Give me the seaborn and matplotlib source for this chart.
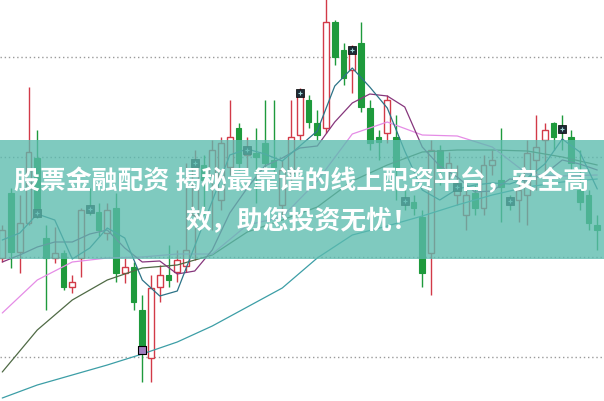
import numpy as np
import pandas as pd
import seaborn as sns
import matplotlib.pyplot as plt
from matplotlib.patches import Rectangle

# Datos de velas (precio)
open_ = [12.99, 13.64, 13.05, 13.34, 13.99, 13.19, 12.99, 13.04, 12.70, 12.99,
         13.50, 13.45, 13.24, 13.49, 12.84, 12.90, 12.47, 11.99, 12.70, 12.82,
         12.85, 12.91, 13.42, 13.92, 13.82, 13.57, 13.90, 14.29, 14.02, 14.04,
         14.14, 13.97, 13.52, 13.84, 14.22, 14.57, 14.34, 14.29, 15.35, 15.07,
         14.87, 15.14, 14.49, 14.20, 14.24, 14.20, 13.59, 13.55, 13.40, 13.04,
         14.07, 13.87, 13.62, 13.42, 13.64, 13.49, 13.92, 13.77, 13.59, 13.57,
         13.62, 13.97, 14.17, 14.34, 14.31, 14.20, 13.67, 13.62, 13.32]
close = [13.27, 13.05, 13.34, 14.05, 13.44, 12.99, 13.04, 12.70, 12.75, 13.47,
         13.48, 13.27, 13.47, 12.84, 12.90, 12.55, 12.07, 12.69, 12.82, 12.77,
         12.97, 13.07, 13.94, 13.77, 14.07, 14.14, 14.20, 13.94, 14.07, 14.00,
         13.94, 13.90, 13.87, 14.20, 14.64, 14.35, 14.22, 15.35, 15.00, 14.79,
         15.07, 14.50, 14.14, 14.15, 14.57, 13.90, 13.56, 13.49, 12.84, 14.07,
         13.87, 13.94, 13.70, 13.62, 13.49, 13.92, 13.97, 13.70, 13.56, 13.67,
         14.04, 14.10, 14.27, 14.20, 14.28, 13.94, 13.55, 13.34, 13.27]
high = [13.32, 13.69, 13.62, 14.70, 14.27, 13.32, 13.30, 13.07, 12.82, 13.49,
        13.69, 13.54, 13.54, 13.64, 12.99, 12.95, 12.62, 12.82, 12.92, 13.12,
        13.07, 13.94, 14.07, 14.02, 14.17, 14.20, 14.57, 14.34, 14.20, 14.29,
        14.57, 14.57, 13.97, 14.57, 14.69, 14.62, 14.47, 15.62, 15.37, 15.14,
        15.12, 15.35, 14.57, 14.27, 14.62, 14.42, 13.67, 13.62, 13.47, 14.17,
        14.12, 14.05, 13.92, 13.72, 13.72, 14.02, 14.07, 14.29, 13.62, 13.82,
        14.17, 14.42, 14.34, 14.35, 14.42, 14.27, 14.07, 13.67, 13.42]
low = [12.95, 12.89, 12.84, 13.32, 13.39, 12.47, 12.94, 12.67, 12.64, 12.80,
       13.42, 13.21, 13.17, 12.75, 12.74, 12.47, 11.75, 11.75, 12.55, 12.70,
       12.75, 12.85, 12.97, 13.42, 13.27, 13.47, 13.82, 13.87, 13.87, 13.54,
       13.89, 13.85, 13.42, 13.75, 14.17, 14.29, 14.17, 14.24, 14.92, 14.72,
       14.64, 14.45, 14.07, 13.97, 14.14, 13.57, 13.47, 13.42, 12.70, 12.62,
       13.72, 13.77, 13.52, 13.27, 13.42, 13.42, 13.82, 13.35, 13.47, 13.35,
       13.32, 13.67, 13.82, 14.07, 14.07, 13.87, 13.47, 13.27, 13.07]

# Medias moviles: cortas leidas cada 2 velas, largas cada 4
idx2 = list(range(0, 69, 2))
idx4 = list(range(0, 69, 4))
ma5 = [13.17, 13.24, 13.43, 13.37, 12.98, 13.09, 13.29, 13.19, 12.77, 12.61,
       12.66, 13.11, 13.56, 14.02, 14.08, 14.03, 13.96, 14.11, 14.26, 14.71,
       14.89, 14.70, 14.49, 14.06, 13.67, 13.57, 13.68, 13.72, 13.74, 13.73,
       13.79, 13.93, 14.18, 14.05, 13.68]
ma10 = [12.95, 13.02, 13.10, 13.15, 13.15, 13.23, 13.27, 13.09, 12.95, 12.96,
        12.83, 12.86, 13.07, 13.44, 13.69, 13.91, 13.99, 14.09, 14.11, 14.35,
        14.54, 14.63, 14.61, 14.50, 14.10, 13.91, 13.80, 13.65, 13.66, 13.78,
        13.76, 13.83, 13.97, 13.93, 13.87]
ma20 = [12.44, 12.77, 12.95, 12.99, 13.00, 13.03, 13.03, 13.32, 13.40, 13.76,
        14.23, 14.35, 14.22, 14.21, 14.10, 13.83, 13.81, 13.82]
ma30 = [11.85, 12.27, 12.57, 12.77, 12.89, 12.92, 13.02, 13.25, 13.37, 13.50,
        13.76, 13.92, 14.05, 14.07, 14.07, 14.06, 14.00, 13.92]
ma60 = [11.59, 11.72, 11.82, 11.92, 12.03, 12.15, 12.31, 12.50, 12.69, 12.99,
        13.22, 13.31, 13.41, 13.52, 13.62, 13.70, 13.75, 13.78]

grid_levels = [12, 13, 14, 15]
titulo = ["股票金融配资 揭秘最靠谱的线上配资平台，安全高", "效，助您投资无忧！"]

df = pd.DataFrame({"open": open_, "close": close, "high": high, "low": low})
df["i"] = np.arange(len(df))
sube = df[df["close"] >= df["open"]]
baja = df[df["close"] < df["open"]]

sns.set_style("white")
fig = plt.figure(figsize=(6.04, 4.01), dpi=100)
ax = fig.add_axes([0, 0, 1, 1])

rojo = "#d23a48"
verde = "#1e9a3c"

for y in grid_levels:
    ax.axhline(y, color="#9a9a9a", lw=1, ls=(0, (1, 2)), zorder=0)

# mechas
ax.vlines(sube["i"], sube["low"], sube["high"], color=rojo, lw=1, zorder=2)
ax.vlines(baja["i"], baja["low"], baja["high"], color=verde, lw=1, zorder=2)
# cuerpos
ax.bar(sube["i"], sube["close"] - sube["open"], bottom=sube["open"], width=0.66,
       facecolor="white", edgecolor=rojo, lw=1, zorder=3)
ax.bar(baja["i"], baja["open"] - baja["close"], bottom=baja["close"], width=0.66,
       facecolor=verde, edgecolor=verde, lw=0.8, zorder=3)

lineas = [(idx4, ma60, "#3c9ea6"), (idx4, ma30, "#4f6a45"), (idx4, ma20, "#e58ce6"),
          (idx2, ma10, "#86367c"), (idx2, ma5, "#2c7387")]
for xs, vals, col in lineas:
    sns.lineplot(x=xs, y=vals, ax=ax, color=col, lw=0.9, zorder=4)

# marcas cada 6 velas
marcas = df.iloc[4::6]
ax.scatter(marcas["i"], marcas["close"], marker="s", s=34, color="#1c2a36",
           edgecolor="black", lw=0.5, zorder=5)
ax.scatter(marcas["i"], marcas["close"], marker="+", s=12, color="#9fd6d6",
           lw=0.8, zorder=6)
ax.scatter([16], [close[16]], marker="s", s=34, color="#a27fc0",
           edgecolor="black", lw=0.8, zorder=7)

ax.set_xlim(-0.26, 68.77)
ax.set_ylim(11.56, 15.57)
ax.set_xticks([])
ax.set_yticks([])
for s in ax.spines.values():
    s.set_visible(False)

# franja con texto
ax.add_patch(Rectangle((0, 1 - 259 / 401), 1, 119 / 401, transform=ax.transAxes,
                       facecolor="#5bbbae", alpha=0.78, lw=0, zorder=8))
fig.text(0.5, 1 - 182 / 401, titulo[0], ha="center", va="center", fontsize=18.6,
         color="white", weight="bold", family=["Noto Sans CJK SC", "DejaVu Sans"], zorder=9)
fig.text(0.5, 1 - 222 / 401, titulo[1], ha="center", va="center", fontsize=18.6,
         color="white", weight="bold", family=["Noto Sans CJK SC", "DejaVu Sans"], zorder=9)

fig.savefig("out.png", dpi=100)
plt.close(fig)
